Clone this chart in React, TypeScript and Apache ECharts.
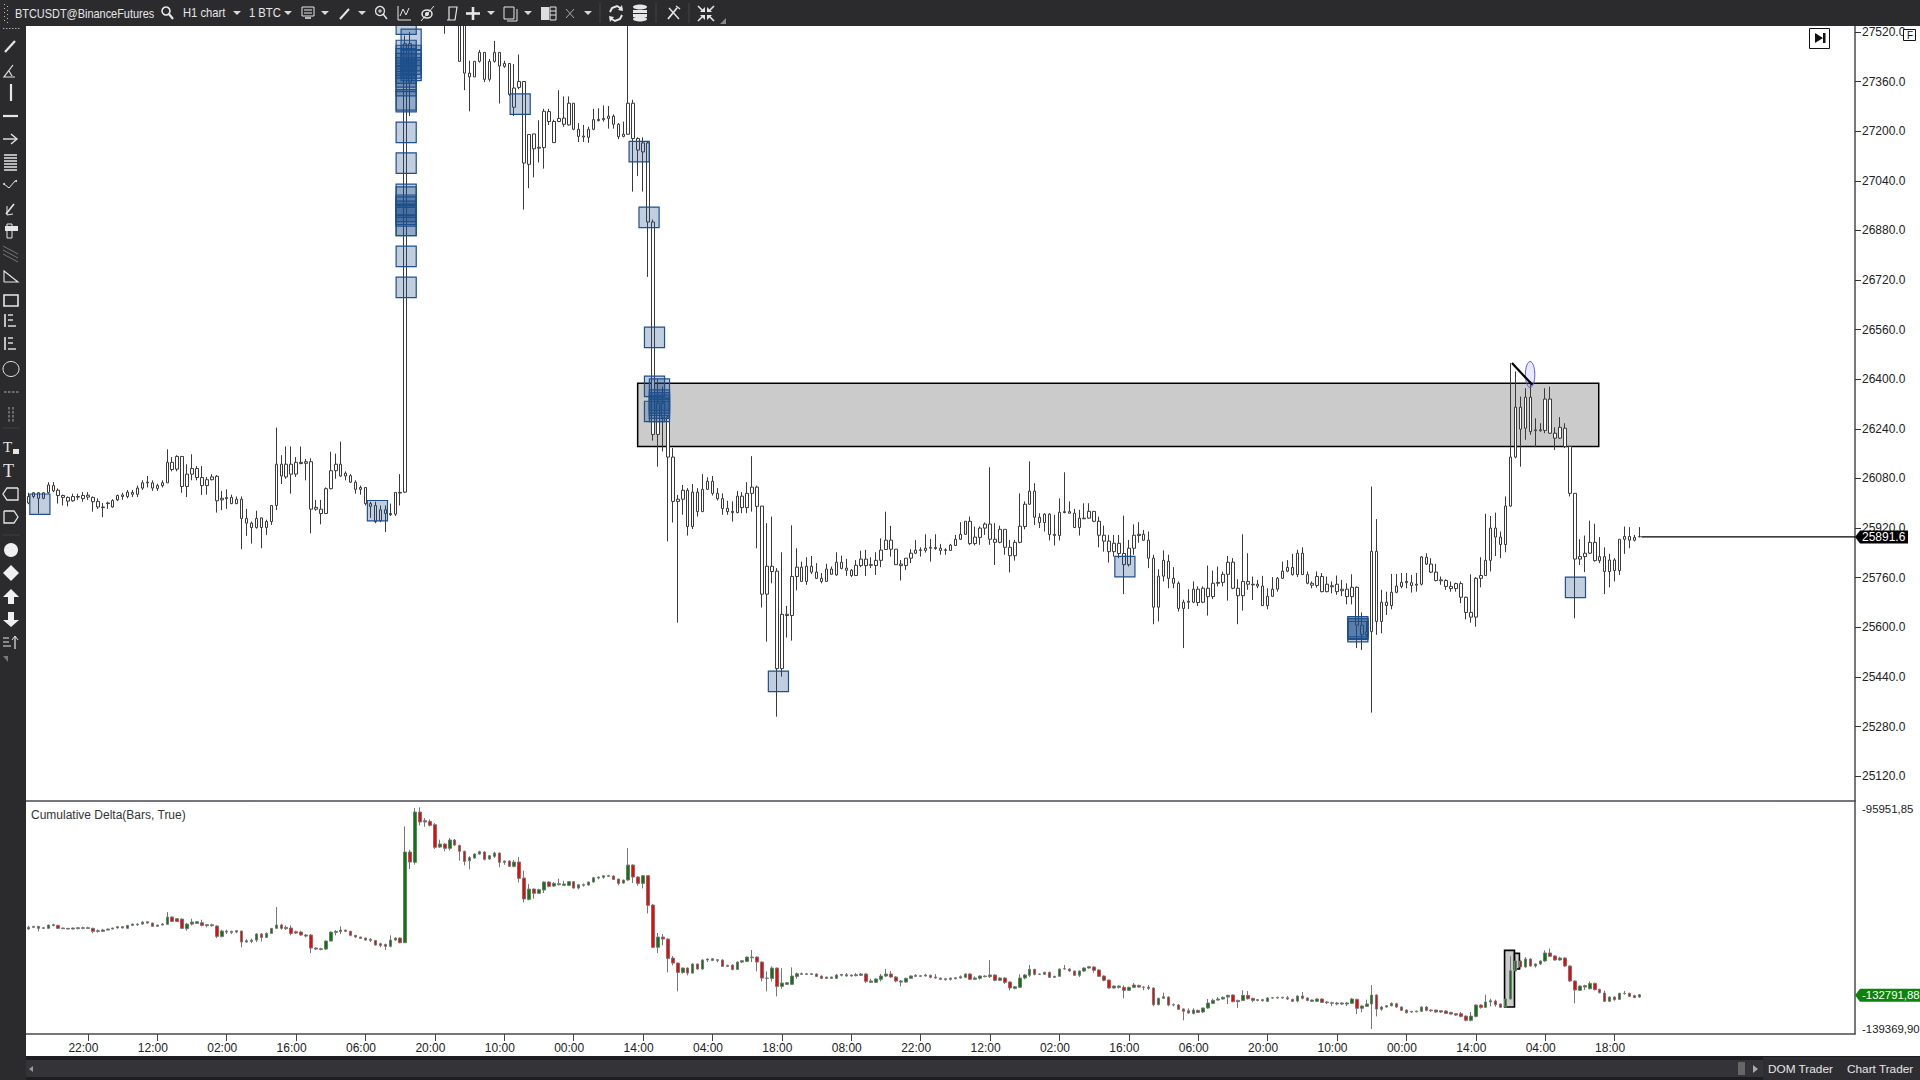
import React, { useEffect, useRef } from "react";
import * as echarts from "echarts";

const timeLabels = ["22:00","12:00","02:00","16:00","06:00","20:00","10:00","00:00","14:00","04:00","18:00","08:00","22:00","12:00","02:00","16:00","06:00","20:00","10:00","00:00","14:00","04:00","18:00"];
const priceTicks = [25120,25280,25440,25600,25760,25920,26080,26240,26400,26560,26720,26880,27040,27200,27360,27520];
const deltaTicks = [-95951.85,-139369.9];

const bodyTops = [
26022,26034,26034,26034,26059,26057,26042,26025,26019,26022,
26022,26025,26026,26019,26006,25988,26001,26009,26025,26027,
26036,26035,26049,26066,26068,26066,26057,26066,26132,26132,
26151,26151,26094,26112,26112,26083,26076,26085,26087,26016,
26019,26019,26013,26013,25951,25936,25951,25953,25941,25993,
26126,26126,26126,26126,26132,26132,26134,26134,25987,25981,
26047,26105,26126,26126,26097,26089,26068,26051,26051,25999,
25993,25979,25979,25967,26035,26035,27482,27482,27700,27720,
27680,27690,27660,27650,27660,27640,27620,27600,27560,27387,
27425,27454,27454,27425,27454,27454,27418,27418,27339,27360,
27360,27189,27191,27148,27264,27263,27231,27241,27242,27290,
27290,27206,27184,27206,27237,27238,27241,27248,27248,27222,
27190,27290,27290,27176,27162,27162,26907,26323,26323,26278,
26149,26013,26042,26042,26036,26036,26045,26071,26071,26032,
26015,25984,25974,26023,26023,26032,26052,26052,25991,25797,
25797,25781,25642,25642,25764,25794,25794,25797,25797,25778,
25758,25788,25788,25810,25810,25791,25784,25800,25820,25820,
25802,25816,25849,25881,25881,25852,25804,25823,25839,25849,
25850,25855,25858,25858,25855,25850,25865,25884,25900,25942,
25942,25891,25920,25933,25933,25884,25916,25916,25858,25874,
25926,25997,26039,26039,25955,25965,25965,25900,25971,25973,
25973,25968,25952,25952,25974,25974,25942,25897,25878,25871,
25871,25838,25855,25897,25900,25900,25881,25823,25765,25816,
25813,25758,25742,25681,25684,25723,25723,25726,25726,25742,
25745,25771,25810,25810,25726,25748,25748,25739,25739,25733,
25700,25723,25758,25781,25793,25793,25839,25839,25770,25742,
25764,25764,25739,25734,25739,25723,25723,25729,25729,25607,
25586,25845,25845,25681,25681,25713,25733,25745,25748,25744,
25739,25827,25826,25804,25778,25753,25751,25732,25741,25741,
25697,25648,25758,25767,25816,25920,25920,25891,25991,26149,
26310,26310,26342,26342,26237,26237,26336,26336,26226,26245,
26242,26183,26032,25828,25839,25874,25874,25828,25828,25817,
25817,25884,25893,25893,25890,25893];

const bodyBottoms = [
26001,26022,26016,26016,26034,26040,26025,26019,26007,26008,
26020,26015,26020,26005,25988,25986,25999,25988,26011,26022,
26022,26029,26029,26049,26066,26049,26048,26057,26066,26109,
26110,26054,26054,26094,26083,26057,26057,26076,26008,26011,
26015,25999,25999,25951,25936,25922,25922,25922,25922,25941,
25993,26088,26085,26094,26094,26128,26129,25981,25981,25967,
25967,26047,26105,26088,26088,26068,26045,26045,25999,25990,
25941,25944,25967,25963,25965,26033,26036,27358,27560,27620,
27620,27610,27600,27590,27600,27600,27580,27425,27387,27375,
27375,27425,27367,27367,27425,27410,27409,27318,27277,27341,
27097,27093,27143,27145,27147,27231,27163,27231,27222,27220,
27206,27183,27181,27180,27206,27234,27237,27241,27222,27182,
27183,27190,27176,27139,27133,26907,26222,26222,26278,26149,
26006,26006,26013,25925,25925,25973,25973,26045,26032,26015,
25983,25973,25970,25970,25986,25986,26032,25990,25707,25707,
25780,25467,25467,25638,25638,25764,25748,25748,25778,25758,
25748,25748,25771,25769,25790,25784,25767,25767,25799,25799,
25800,25799,25816,25851,25852,25802,25799,25799,25823,25839,
25848,25848,25855,25854,25848,25848,25848,25864,25884,25900,
25870,25870,25890,25920,25884,25874,25874,25858,25831,25831,
25874,25925,25997,25955,25938,25938,25899,25896,25896,25970,
25968,25922,25922,25950,25952,25942,25897,25878,25844,25844,
25838,25802,25802,25855,25896,25881,25823,25665,25665,25765,
25758,25742,25661,25661,25681,25681,25680,25681,25699,25699,
25742,25745,25771,25726,25702,25702,25739,25737,25733,25670,
25670,25700,25723,25758,25781,25770,25770,25770,25742,25736,
25735,25715,25715,25731,25715,25718,25699,25699,25607,25576,
25576,25586,25619,25619,25670,25670,25713,25732,25744,25735,
25736,25739,25804,25778,25751,25750,25732,25725,25725,25697,
25648,25633,25633,25758,25767,25816,25891,25867,25867,25991,
26149,26239,26242,26231,26234,26234,26235,26226,26210,26210,
26183,26032,25820,25820,25828,25839,25815,25815,25780,25780,
25783,25783,25884,25881,25881,25892];

const priceHighs = [
26034,26036,26036,26036,26068,26068,26048,26028,26022,26031,
26031,26036,26036,26022,26016,26001,26005,26013,26028,26034,
26043,26043,26057,26074,26088,26074,26063,26074,26174,26149,
26155,26151,26126,26158,26120,26120,26085,26094,26091,26040,
26045,26028,26022,26022,25982,25941,25976,25953,25947,25993,
26244,26155,26183,26183,26149,26183,26143,26145,26011,26011,
26051,26166,26160,26199,26103,26094,26074,26057,26051,26005,
26005,25993,25993,25999,26035,26094,27508,27520,27740,27750,
27710,27720,27700,27680,27700,27680,27650,27640,27600,27427,
27425,27462,27454,27433,27491,27454,27427,27418,27416,27447,
27360,27189,27191,27235,27272,27272,27237,27332,27312,27312,
27290,27226,27220,27214,27272,27274,27283,27281,27254,27226,
27231,27650,27301,27180,27180,27168,26915,26400,26376,26285,
26178,26027,26059,26049,26062,26049,26094,26084,26088,26049,
26032,26008,26006,26040,26036,26068,26152,26057,25991,25936,
25957,25791,25842,25669,25929,25855,25812,25826,25830,25807,
25775,25805,25796,25842,25831,25821,25788,25817,25847,25850,
25826,25842,25887,25973,25927,25852,25817,25823,25852,25881,
25858,25900,25885,25900,25869,25855,25869,25898,25939,25942,
25957,25925,25925,25938,26116,25936,25928,25916,25882,25882,
26032,26006,26135,26065,25968,25968,25968,25963,26016,26100,
26006,25982,25979,26000,26000,25974,25957,25928,25898,25898,
25898,25960,25882,25932,25939,25914,25909,25834,25787,25848,
25834,25794,25748,25689,25723,25748,25732,25732,25799,25783,
25796,25780,25830,25823,25755,25900,25839,25764,25753,25766,
25726,25762,25762,25812,25817,25837,25850,25858,25780,25748,
25780,25775,25764,25748,25767,25753,25742,25771,25732,25648,
25619,26054,25949,25721,25715,25772,25772,25775,25775,25769,
25775,25830,25839,25823,25805,25764,25755,25748,25744,25748,
25699,25771,25762,25826,25966,25959,25970,25909,26022,26452,
26425,26344,26371,26393,26274,26258,26371,26376,26245,26278,
26258,26185,26032,25884,25896,25944,25934,25891,25858,25837,
25823,25884,25925,25923,25898,25923];

const priceLows = [
25997,26016,25967,26013,26031,26036,25999,25993,25990,26005,
26011,26005,26011,25973,25982,25955,25982,25986,26007,26011,
26016,26020,26020,26043,26051,26040,26040,26051,26066,26103,
26103,26034,26020,26074,26074,26027,26028,26074,25970,25978,
25982,25997,25997,25852,25895,25870,25918,25855,25898,25930,
25978,26062,26079,26031,26085,26126,26074,25903,25976,25932,
25965,26045,26079,26085,26074,26066,26031,26028,25993,25953,
25936,25939,25907,25959,25959,25993,26033,27249,27545,27600,
27600,27590,27580,27570,27514,27570,27560,27425,27332,27264,
27375,27421,27358,27360,27421,27289,27404,27314,27249,27335,
26947,27016,27051,27099,27079,27220,27162,27229,27214,27218,
27203,27165,27165,27162,27203,27231,27231,27208,27208,27174,
27180,27188,27005,27055,27005,26730,26202,26118,26167,25877,
25938,25615,25963,25896,25917,25957,25973,26043,26025,26009,
25963,25963,25941,25968,25968,25968,25973,25855,25664,25554,
25742,25312,25441,25567,25557,25719,25748,25737,25772,25756,
25742,25748,25769,25766,25787,25766,25762,25766,25794,25766,
25791,25769,25794,25850,25828,25801,25751,25785,25807,25837,
25828,25841,25812,25850,25834,25834,25848,25863,25882,25898,
25866,25864,25866,25898,25866,25801,25871,25834,25777,25815,
25871,25916,25995,25930,25920,25909,25880,25864,25880,25968,
25968,25920,25896,25950,25950,25939,25858,25844,25809,25828,
25823,25707,25796,25834,25873,25879,25791,25610,25619,25748,
25726,25726,25651,25533,25659,25678,25669,25678,25638,25691,
25732,25732,25686,25723,25610,25654,25721,25688,25726,25669,
25658,25699,25715,25756,25778,25767,25762,25769,25739,25726,
25728,25713,25713,25710,25705,25701,25674,25674,25533,25527,
25570,25325,25576,25581,25640,25658,25710,25726,25726,25712,
25715,25735,25801,25775,25748,25737,25721,25715,25715,25678,
25626,25615,25602,25729,25766,25780,25830,25823,25842,25989,
26145,26118,26205,26221,26181,26231,26226,26224,26172,26208,
26178,26022,25629,25801,25778,25837,25812,25807,25707,25729,
25748,25769,25837,25855,25877,25890];

const deltaOpens = [
-119700,-119370,-119170,-119570,-119570,-118980,-118980,-119500,-119570,-119700,
-119630,-119570,-119570,-119570,-120030,-120160,-119900,-119700,-119500,-119500,
-119570,-118980,-118850,-118720,-118520,-118520,-119170,-118910,-118780,-117330,
-117660,-117730,-119630,-118720,-118590,-118450,-118850,-119050,-119110,-121150,
-120300,-120160,-120300,-120100,-122270,-122140,-121880,-120690,-121350,-120560,
-119570,-118910,-119370,-119500,-120230,-120290,-120880,-120880,-123450,-123720,
-123650,-122070,-120360,-120230,-119900,-120160,-120950,-121280,-121480,-121740,
-121940,-122600,-122730,-123120,-121880,-121480,-122400,-104500,-106540,-96610,
-98320,-98450,-99110,-103520,-102930,-103780,-102130,-103190,-104370,-106210,
-105690,-104900,-104500,-105890,-105360,-104700,-106280,-106280,-107330,-106480,
-109640,-113850,-111810,-112660,-112000,-110420,-111220,-110950,-111080,-111080,
-110360,-111610,-111080,-111020,-110420,-109640,-109500,-109300,-109240,-109830,
-110620,-110030,-107070,-109440,-110690,-109170,-114970,-123320,-121280,-121680,
-125430,-126420,-128260,-127400,-128390,-126610,-127600,-125820,-125890,-125760,
-125820,-126880,-126810,-127670,-126220,-126090,-125230,-125230,-126220,-129380,
-129440,-127400,-131020,-130620,-130620,-129050,-128650,-128650,-128650,-128580,
-128980,-129180,-129440,-129440,-128840,-128970,-128970,-128910,-128840,-128580,
-130220,-130220,-129630,-128970,-128580,-129170,-130160,-130160,-129430,-129040,
-129040,-128970,-128840,-129370,-129630,-129700,-129630,-129500,-129370,-129240,
-128580,-129630,-129430,-129100,-129100,-128770,-129820,-129370,-130160,-131410,
-131210,-129370,-128840,-127660,-128640,-128640,-128250,-129240,-129040,-127590,
-127590,-127980,-128840,-127980,-127390,-127190,-127790,-128970,-129760,-131340,
-131210,-131210,-131800,-131210,-130820,-131150,-131410,-131340,-134630,-133380,
-133120,-134630,-134700,-135480,-135820,-136350,-135750,-136080,-135290,-134370,
-133710,-133510,-133120,-132720,-134040,-133780,-132790,-133380,-133640,-133840,
-133970,-133310,-133310,-133310,-133250,-133580,-133910,-132920,-133310,-133970,
-133970,-133510,-134100,-134240,-134500,-134500,-134500,-134370,-133580,-135350,
-134960,-134500,-132720,-135550,-135090,-134830,-134440,-135090,-135690,-136080,
-136020,-135950,-135090,-135690,-135690,-135820,-135880,-136150,-136410,-136410,
-136880,-137720,-136940,-134700,-135160,-134100,-133910,-134500,-135090,-133510,
-127980,-126010,-127190,-125620,-127000,-126600,-126010,-124430,-125020,-125810,
-125420,-127000,-129960,-131800,-131150,-131480,-130430,-131610,-132320,-133970,
-133120,-133580,-132460,-132390,-132850,-133120];

const deltaCloses = [
-119370,-119170,-119570,-119440,-118910,-118840,-119570,-119630,-119700,-119500,
-119440,-119440,-119440,-120160,-120160,-119900,-119700,-119500,-119240,-119240,
-118980,-118720,-118720,-118320,-118260,-119170,-118910,-118720,-117330,-118190,
-118190,-119570,-118720,-118320,-118260,-118980,-119050,-118850,-121150,-120100,
-120100,-120360,-120030,-122270,-122010,-121880,-120690,-121350,-120560,-119570,
-118910,-119570,-119630,-120560,-120490,-120880,-121090,-123450,-123650,-123590,
-122070,-120300,-120160,-119900,-120160,-120950,-121280,-121550,-121880,-121940,
-122860,-122930,-123120,-121880,-121480,-122400,-104500,-106480,-96610,-98580,
-98580,-99240,-103580,-102930,-103780,-102130,-103120,-104370,-106350,-105620,
-104900,-104440,-105950,-105230,-104700,-106540,-106540,-107330,-106480,-109700,
-113780,-111810,-112660,-111940,-110420,-111280,-110690,-110750,-110820,-110360,
-111610,-110950,-110950,-110420,-109570,-109440,-109170,-109170,-109900,-110690,
-110030,-107070,-109440,-110690,-109170,-115030,-123320,-121280,-121680,-125500,
-126420,-128260,-127400,-128390,-126610,-127600,-125820,-125620,-125560,-125890,
-127070,-127070,-127670,-126220,-125960,-125230,-125360,-126220,-129380,-129440,
-127400,-131020,-130360,-130300,-128980,-128520,-128520,-128520,-128520,-129050,
-129440,-129440,-129180,-128780,-128640,-128710,-128770,-128710,-128580,-130030,
-129960,-129560,-128970,-128580,-129170,-129960,-129960,-129430,-128970,-128840,
-128910,-128770,-129240,-129170,-129370,-129500,-129370,-129300,-129110,-128580,
-129630,-129370,-128970,-128970,-128770,-129820,-129370,-130220,-131340,-131080,
-129370,-128770,-127660,-128640,-128580,-128250,-129240,-129040,-127590,-127530,
-127980,-128840,-127980,-127390,-127130,-127850,-129040,-129820,-131340,-130950,
-130950,-131800,-131210,-130750,-131150,-131210,-131150,-134630,-133380,-133050,
-134700,-134700,-135550,-135950,-136280,-135690,-136150,-135290,-134300,-133780,
-133510,-133180,-132790,-134040,-133780,-132790,-133450,-133780,-133780,-133640,
-133310,-133250,-133180,-133180,-133510,-133970,-132920,-133380,-133780,-133710,
-133510,-134170,-134240,-134370,-134300,-134300,-134300,-133510,-135350,-134890,
-134500,-132720,-135490,-135090,-134830,-134370,-135090,-135750,-136220,-135950,
-135880,-135090,-135750,-135820,-136080,-136080,-136350,-136480,-136680,-136940,
-137720,-136880,-134700,-135160,-134100,-133840,-134630,-135160,-133510,-127920,
-126010,-127190,-125620,-127000,-126600,-126010,-124430,-125090,-125810,-125420,
-127000,-129960,-131740,-130950,-130880,-130430,-131670,-132260,-133970,-133120,
-133640,-132390,-132390,-132990,-133240,-132660];

const deltaLows = [
-119830,-119440,-120160,-119630,-119630,-119170,-119700,-119700,-119760,-119760,
-119760,-119760,-119700,-120550,-120420,-120290,-119970,-119770,-119570,-119570,
-119630,-119050,-119110,-118850,-118650,-119240,-119240,-118980,-118850,-118260,
-118260,-119700,-120030,-118980,-118650,-119170,-119370,-119240,-121480,-121350,
-120690,-120690,-120550,-123320,-122400,-122470,-122270,-122140,-121480,-120620,
-119630,-119840,-119900,-120950,-120690,-121020,-121350,-124440,-123850,-123910,
-123850,-122140,-120950,-120690,-120290,-121150,-121410,-121610,-122010,-122270,
-122990,-123320,-123850,-123320,-122010,-122530,-122470,-107860,-107000,-99240,
-99500,-99440,-103910,-103710,-104370,-104180,-103320,-106210,-107140,-107930,
-105820,-105030,-106150,-106020,-105690,-107530,-107030,-107400,-107530,-110490,
-114440,-114040,-113720,-112790,-112600,-111480,-111350,-111080,-111150,-111220,
-111740,-111870,-111350,-111150,-110550,-109900,-109770,-109440,-110030,-111080,
-110750,-110160,-110620,-111150,-111680,-116610,-123450,-124440,-122930,-128260,
-126880,-132010,-128520,-128850,-128520,-127730,-127730,-126220,-126020,-126280,
-127200,-127200,-127860,-127790,-126420,-126220,-126220,-128060,-130040,-132010,
-130040,-132990,-131480,-130760,-130760,-129510,-128780,-128780,-128780,-129180,
-129510,-129510,-129510,-129570,-129040,-129100,-129100,-129040,-128970,-130350,
-130350,-130350,-130020,-129170,-129300,-130220,-131010,-130290,-129560,-129170,
-129170,-129100,-129430,-129500,-129760,-129890,-129890,-129630,-129500,-129300,
-129760,-129760,-129700,-129240,-129370,-130020,-129960,-130550,-131800,-131610,
-131340,-129630,-129170,-128840,-128770,-128770,-129370,-129370,-129100,-127720,
-128120,-128970,-129170,-128180,-127530,-128310,-129170,-130020,-131470,-131470,
-131470,-133380,-131930,-131340,-131280,-131800,-131740,-134960,-134760,-133510,
-134960,-134960,-135680,-137720,-136410,-136540,-136280,-136280,-135420,-134500,
-133840,-133640,-134500,-134170,-135290,-133910,-133640,-134170,-133970,-134040,
-134100,-133450,-133450,-133450,-133710,-134100,-134170,-133580,-133970,-134100,
-134100,-134300,-134500,-134890,-134760,-134700,-134890,-134500,-136480,-136150,
-135090,-139430,-136940,-135820,-135220,-134960,-135290,-135880,-136350,-136220,
-136150,-136080,-135950,-136080,-136220,-136280,-136480,-136610,-136880,-137140,
-137920,-137920,-137140,-135420,-135290,-134960,-135030,-135220,-135160,-133640,
-128050,-127530,-127320,-127130,-127320,-126800,-126140,-125220,-125940,-125940,
-127130,-130160,-134370,-131930,-131740,-131610,-131800,-132390,-134100,-134100,
-133840,-133710,-132660,-133120,-133250,-133250];

const deltaHighs = [
-119040,-119110,-119110,-119370,-118840,-118650,-118840,-119440,-119500,-119440,
-119310,-119240,-119240,-119440,-119770,-119640,-119640,-119440,-119170,-119170,
-118910,-118650,-118590,-118190,-118190,-118450,-118850,-118520,-116350,-117270,
-117600,-117660,-118520,-117660,-118120,-117860,-118720,-118650,-118980,-119840,
-119840,-120030,-119900,-120030,-121680,-121610,-120490,-120490,-120360,-119500,
-115360,-118650,-118980,-118980,-120030,-120030,-120690,-120690,-123320,-123390,
-121940,-120230,-119900,-119170,-119840,-120030,-120880,-121220,-121410,-121480,
-121880,-122400,-122600,-120950,-121350,-121350,-99440,-104040,-95820,-95690,
-97790,-98060,-98780,-102070,-102730,-101740,-101940,-103060,-104240,-105360,
-104770,-104240,-104370,-105160,-104440,-104640,-106210,-106150,-106080,-105490,
-108190,-110820,-111680,-111740,-110290,-110290,-110420,-109770,-110160,-110230,
-110230,-110890,-110690,-110360,-109500,-109370,-109110,-108980,-109110,-109770,
-109970,-103710,-106940,-109240,-109040,-109110,-114770,-120490,-120690,-121550,
-125030,-126290,-127270,-127270,-126480,-126480,-125690,-125560,-125430,-125630,
-125690,-126740,-126680,-126090,-125830,-125100,-123850,-125100,-126090,-128060,
-127070,-127330,-127400,-130170,-127270,-128260,-128260,-128390,-128390,-128450,
-128850,-129110,-129110,-128580,-128580,-128380,-128710,-128380,-128380,-128450,
-129500,-129430,-128580,-127590,-127980,-128970,-129760,-129300,-128840,-128580,
-128780,-128510,-128710,-128580,-129300,-129370,-129300,-129240,-128840,-128450,
-128450,-129040,-128840,-128840,-125810,-128640,-129240,-129240,-130020,-131010,
-128640,-128580,-126800,-127530,-128510,-128120,-128120,-128910,-127530,-126800,
-127460,-127920,-127850,-127260,-127000,-127060,-127660,-128840,-129700,-130820,
-130820,-130820,-131080,-130350,-130690,-131010,-130750,-131210,-133250,-132260,
-132990,-134370,-134500,-135350,-135350,-135350,-135620,-135220,-133510,-133450,
-133120,-132990,-132660,-132590,-133640,-131800,-131940,-133250,-133510,-133450,
-133120,-133120,-133050,-133050,-132920,-133450,-132790,-132130,-133180,-133640,
-133380,-133380,-133970,-134040,-134100,-134170,-134100,-133310,-133450,-134760,
-133640,-130750,-132590,-134890,-134700,-134170,-134240,-134960,-135550,-135880,
-135820,-134960,-134890,-135550,-135620,-135750,-135750,-136020,-136280,-136080,
-136750,-136080,-134570,-134570,-132660,-133450,-133640,-134370,-133050,-125090,
-124960,-125810,-125220,-125480,-126470,-125880,-123900,-123570,-124890,-125160,
-125290,-126870,-129830,-130820,-130690,-130030,-130290,-131470,-131860,-132990,
-132990,-132260,-131920,-132260,-132660,-132520];

// Signal boxes: bar position and centre price
const boxBars = [2.3,70.4,76.2,76.2,76.2,76.2,76.2,76.2,76.2,76.2,76.2,76.2,76.2,76.2,76.2,76.2,76.2,76.2,76.2,76.2,76.2,76.2,76.2,76.2,76.2,76.2,76.2,
  77.2,77.2,77.2,77.2,77.2,77.2,99.2,123.2,125.2,126.3,126.3,126.3,127.3,127.3,127.3,127.3,127.3,127.3,151.3,221.2,312.1,268.2,268.2,268.2,268.2];
const boxPrices = [25997,25976,26696,26796,26896,26896,26927,26932,26941,26955,26961,26987,26996,27097,27196,27295,27301,27347,27360,27375,27387,27404,27418,27433,27444,27545,27460,
  27496,27444,27427,27416,27404,27396,27287,27134,26922,26535,26377,26296,26368,26333,26324,26316,26307,26296,25426,25796,25729,25602,25597,25594,25586];
const BOX_HALF_BARS = 2.03;
const BOX_HALF_PRICE = 33;

const zoneBars = [122.9, 316.8];
const zonePrices = [26387, 26183];
const trendBars = [299.3, 303.4];
const trendPrices = [26452, 26382];
const ellipseBars = [302.0, 303.9];
const ellipsePrices = [26457, 26373];
const lastPrice = 25891.6;
const lastDelta = -132791.88;
const deltaZones = [[297.8, 299.8, -123910, -135090], [299.8, 300.8, -124500, -127590]];

const SLOTS = 369;
const FONT = "Liberation Sans";
const DARK = "#2b2b2e";
const ICON = "#e6e6e6";
const Z = 100;

const L = (x1: number, y1: number, x2: number, y2: number, w = 1.5, c = ICON) => ({ type: "line", z: Z, silent: true, shape: { x1, y1, x2, y2 }, style: { stroke: c, lineWidth: w } });
const R = (x: number, y: number, width: number, height: number, fill: string, stroke = "none", w = 1) => ({ type: "rect", z: Z, silent: true, shape: { x, y, width, height }, style: { fill, stroke, lineWidth: w } });
const P = (points: number[][], fill = ICON) => ({ type: "polygon", z: Z, silent: true, shape: { points }, style: { fill } });
const PL = (points: number[][], w = 1.5, c = ICON) => ({ type: "polyline", z: Z, silent: true, shape: { points }, style: { stroke: c, lineWidth: w, fill: "none" } });
const C = (cx: number, cy: number, r: number, fill: string, stroke = "none", w = 1.5) => ({ type: "circle", z: Z, silent: true, shape: { cx, cy, r }, style: { fill, stroke, lineWidth: w } });
const E = (cx: number, cy: number, rx: number, ry: number, fill: string, stroke = "none", w = 1.5) => ({ type: "ellipse", z: Z, silent: true, shape: { cx, cy, rx, ry }, style: { fill, stroke, lineWidth: w } });
const T = (text: string, x: number, y: number, fill = ICON, fontSize = 12, fontFamily = FONT, scaleX = 1) => ({ type: "text", z: Z, silent: true, x, y, scaleX, style: { text, fill, fontSize, fontFamily, textVerticalAlign: "middle" } });
const caret = (x: number) => P([[x - 4, 11], [x + 4, 11], [x, 15]], "#d8d8d8");

function chrome() {
  const g: any[] = [
    R(0, 0, 1920, 26, DARK),
    R(0, 0, 26, 1080, DARK),
    R(26, 1056, 1894, 24, "#1e1e20"),
    R(26, 1060, 1894, 17, "#333338"),
    R(1763, 1057, 157, 23, "#2e2e32"),
    T("BTCUSDT@BinanceFutures", 15, 13, ICON, 12.5, FONT, 0.875),
    T("H1 chart", 183, 13, ICON, 12.5, FONT, 0.9),
    T("1 BTC", 249, 13, ICON, 12.5, FONT, 0.9),
    caret(237), caret(288), caret(325), caret(362), caret(491), caret(528), caret(588),
    // drag handle
    ...[4, 8, 12, 16, 20].map((y) => R(4, y, 1, 1, "#bbb")),
    ...[6, 10, 14, 18, 22].map((y) => R(7, y, 1, 1, "#bbb")),
    // magnifier
    C(166, 11, 4, "none", ICON, 1.6), L(169, 14, 173, 19, 2.2),
    // monitor
    R(302, 7, 12, 9, "none", ICON), L(304, 10, 312, 10, 1), L(304, 13, 312, 13, 1), L(305, 18, 311, 18, 1.5),
    // pencil
    L(340, 19, 349, 9, 2),
    C(380, 11, 4.5, "none", ICON, 1.3), L(383, 14, 387, 19, 1.5), L(378, 11, 382, 11, 1), L(380, 9, 380, 13, 1),
    // chart
    PL([[398, 6], [398, 20], [411, 20]], 1), PL([[400, 16], [403, 9], [406, 15], [409, 8]], 1),
    // eye
    E(427, 14, 5, 4, "none", ICON, 1.5), C(427, 14, 2, ICON), L(421, 21, 434, 6, 1),
    // document
    PL([[447, 20], [449, 20], [449, 7], [457, 7], [455, 20], [447, 20]], 1.2),
    // plus
    L(473, 7, 473, 20, 2.6), L(466, 13.5, 480, 13.5, 2.6),
    // copy
    R(504, 7, 10, 12, "none", ICON), L(507, 21, 517, 21, 1), L(517, 21, 517, 9, 1),
    // split
    R(541, 7, 8, 13, "#ddd"), R(550, 7, 6, 13, "none", ICON), L(550, 11, 556, 11, 1), L(550, 15, 556, 15, 1),
    // x
    L(566, 9, 574, 18, 1, "#aaa"), L(574, 9, 566, 18, 1, "#aaa"),
    // separators
    L(600, 3, 600, 23, 1, "#444"), L(656, 3, 656, 23, 1, "#444"), L(689, 3, 689, 23, 1, "#444"),
    // refresh
    PL([[610, 12], [612, 8], [617, 6], [622, 9]], 2), P([[622, 5], [623, 11], [618, 10]]),
    PL([[622, 15], [620, 19], [615, 21], [610, 18]], 2), P([[610, 22], [609, 16], [614, 17]]),
    // db
    E(640, 7, 7, 2.5, ICON), R(633, 10, 14, 3, ICON), R(633, 14, 14, 3, ICON), E(640, 19, 7, 2.5, ICON),
    // tools
    L(668, 19, 677, 8, 1.8), L(669, 8, 679, 19, 1.4), L(676, 6, 680, 9, 1.4),
    // compress
    L(698, 6, 703, 11, 1.6), L(714, 6, 709, 11, 1.6), L(698, 21, 703, 16, 1.6), L(714, 21, 709, 16, 1.6),
    P([[705, 12], [700, 12], [705, 7]]), P([[707, 12], [712, 12], [707, 7]]), P([[705, 15], [700, 15], [705, 20]]), P([[707, 15], [712, 15], [707, 20]]),
    P([[720, 24], [726, 24], [726, 18]], "#888"),
    // left tools
    ...[3, 6, 9, 12, 15, 18].map((x) => R(x, 28, 1.5, 1, "#aaa")),
    L(5, 52, 15, 41, 2.2),
    PL([[4, 77], [15, 77], [4, 77], [13, 65]], 1.2), L(9, 71, 12, 76, 1.2),
    L(11, 84, 11, 101, 2.2),
    L(3, 116, 18, 116, 2.2),
    L(3, 139, 16, 139, 1.4), PL([[11, 134], [17, 139], [11, 144]], 1.4),
    ...[155, 158, 161, 164, 167, 170].map((y) => L(4, y, 17, y, 1.5)),
    PL([[4, 184], [9, 188], [15, 181]], 1), C(4, 184, 1, ICON), C(16, 181, 1, ICON),
    L(6, 214, 14, 204, 1.6), PL([[7, 206], [7, 215], [13, 214]], 1),
    R(5, 226, 13, 5, ICON), R(7, 224, 5, 14, "none", ICON),
    L(3, 250, 18, 258, 0.8, "#888"), L(3, 254, 18, 262, 0.8, "#888"), L(3, 246, 18, 254, 0.8, "#888"),
    PL([[4, 282], [4, 271], [18, 282], [4, 282]], 1.1),
    R(4, 295, 14, 11, "none", ICON, 1.6),
    ...[320, 343].flatMap((y) => [L(5, y - 6, 5, y + 7, 1.6), L(8, y - 5, 13, y - 5, 1.4), L(8, y, 13, y, 1.4), L(8, y + 6, 16, y + 6, 1.4)]),
    E(11, 369, 8, 7.5, "none", ICON, 1),
    ...[4, 8, 12, 16].map((x) => L(x, 392, x + 2.6, 392, 1, "#aaa")),
    ...[407, 411, 415, 419].flatMap((y) => [L(9, y, 9, y + 2.6, 1, "#aaa"), L(13, y, 13, y + 2.6, 1, "#aaa")]),
    L(3, 428, 20, 428, 0.8, "#444"),
    T("T", 3, 447, ICON, 15, "Liberation Serif"), R(13, 449, 6, 5, ICON),
    T("T", 3, 471, ICON, 18, "Liberation Serif"),
    PL([[18, 488], [7, 488], [3, 494], [7, 500], [18, 500], [18, 488]], 1.3),
    PL([[4, 511], [14, 511], [18, 517], [14, 523], [4, 523], [4, 511]], 1.3),
    L(3, 535, 20, 535, 0.8, "#444"),
    C(11, 550, 7, "#f0f0f0"),
    P([[11, 565], [19, 573], [11, 581], [3, 573]], "#f0f0f0"),
    P([[11, 589], [19, 597], [14, 597], [14, 604], [8, 604], [8, 597], [3, 597]], "#f0f0f0"),
    P([[8, 612], [14, 612], [14, 620], [19, 620], [11, 627], [3, 620], [8, 620]], "#f0f0f0"),
    L(3, 638, 9, 638, 1), L(3, 642, 9, 642, 1), L(3, 646, 11, 646, 1), L(15, 637, 15, 649, 1.2), PL([[12, 640], [15, 636], [18, 640]], 1),
    P([[3, 656], [8, 656], [8, 662]], "#777"),
    // status bar
    P([[33, 1066], [29, 1069], [33, 1072]], "#999"),
    R(1738, 1062, 7, 13, "#666"),
    P([[1753, 1065], [1758, 1069], [1753, 1073]], "#aaa"),
    T("DOM Trader", 1768, 1069, ICON, 11.8),
    T("Chart Trader", 1847, 1069, ICON, 11.8),
    // chart buttons
    R(1809.5, 28.5, 20, 20, "#fff", "#111", 1),
    P([[1815, 33], [1823, 38], [1815, 43]], "#111"), R(1823, 33, 2.5, 10, "#111"),
    R(1903.5, 29.5, 12, 11, "#fff", "#111", 1),
    T("F", 1907, 35.5, "#111", 10),
    T("Cumulative Delta(Bars, True)", 31, 815, "#333", 12),
  ];
  return g;
}

const rectItem = (a: number[], b: number[], style: any) => ({
  type: "rect",
  shape: { x: a[0], y: a[1], width: b[0] - a[0], height: b[1] - a[1] },
  style,
});

function buildOption(): any {
  const slotLabels = Array.from({ length: SLOTS }, (_, i) => {
    const k = (i - 12) / 14;
    return Number.isInteger(k) && timeLabels[k] ? timeLabels[k] : "";
  });
  const isTick = (i: number) => slotLabels[i] !== "";
  const priceData = bodyTops.map((t, i) => [bodyBottoms[i], t, priceLows[i], priceHighs[i]]);
  const deltaData = deltaOpens.map((o, i) => [o, deltaCloses[i], deltaLows[i], deltaHighs[i]]);

  const axisLabel = { fontFamily: FONT, fontSize: 12, color: "#222" };
  const axisColor = "#4a4a52";
  const valueLine = { show: true, onZero: false, lineStyle: { color: axisColor, width: 1.5 } };

  return {
    animation: false,
    backgroundColor: "#fff",
    grid: [
      { left: 26, right: 65, top: 26, height: 775, outerBoundsMode: "none", containLabel: false },
      { left: 26, right: 65, top: 801, height: 233, outerBoundsMode: "none", containLabel: false },
    ],
    xAxis: [
      { type: "category", gridIndex: 0, data: slotLabels, axisLabel: { show: false }, axisTick: { show: false }, axisLine: valueLine, splitLine: { show: false } },
      {
        type: "category", gridIndex: 1, data: slotLabels,
        axisLine: valueLine,
        axisTick: { show: true, alignWithLabel: true, length: 7, lineStyle: { color: "#444" }, interval: (i: number) => isTick(i) },
        axisLabel: { ...axisLabel, interval: (i: number) => isTick(i), margin: 8, padding: [0, 9, 0, 0] },
        splitLine: { show: false },
      },
      { type: "value", gridIndex: 0, min: -0.5, max: SLOTS - 0.5, show: false },
      { type: "value", gridIndex: 1, min: -0.5, max: SLOTS - 0.5, show: false },
    ],
    yAxis: [
      {
        type: "value", gridIndex: 0, position: "right", min: 25040, max: 27539, scale: true,
        axisLine: valueLine,
        axisTick: { show: true, length: 6, lineStyle: { color: "#333" }, customValues: priceTicks },
        axisLabel: { ...axisLabel, margin: 7, customValues: priceTicks, formatter: (v: number) => v.toFixed(1) },
        splitLine: { show: false },
      },
      {
        type: "value", gridIndex: 1, position: "right", min: -140416, max: -94432, scale: true,
        axisLine: valueLine,
        axisTick: { show: false },
        axisLabel: { ...axisLabel, fontSize: 11.4, margin: 7, customValues: deltaTicks, formatter: (v: number) => v.toFixed(2).replace(".", ",") },
        splitLine: { show: false },
      },
    ],
    graphic: { elements: chrome() },
    series: [
      {
        type: "custom", xAxisIndex: 2, yAxisIndex: 0, z: 1, clip: true, silent: true,
        data: [[zoneBars[0], zonePrices[0], zoneBars[1], zonePrices[1]]],
        encode: { x: 0, y: 1 },
        renderItem: (_: any, api: any) => rectItem(api.coord([api.value(0), api.value(1)]), api.coord([api.value(2), api.value(3)]), { fill: "#cbcbcb", stroke: "#000", lineWidth: 1.5 }),
      },
      {
        type: "candlestick", xAxisIndex: 0, yAxisIndex: 0, z: 2, barWidth: 3, clip: true, silent: true, progressive: 0,
        itemStyle: { color: "#fff", color0: "#fff", borderColor: "#3a3a3a", borderColor0: "#3a3a3a", borderWidth: 1 },
        data: priceData,
      },
      {
        type: "custom", xAxisIndex: 2, yAxisIndex: 0, z: 3, clip: true, silent: true,
        data: boxBars.map((b, i) => [b, boxPrices[i]]),
        encode: { x: 0, y: 1 },
        renderItem: (_: any, api: any) => rectItem(
          api.coord([api.value(0) - BOX_HALF_BARS, api.value(1) + BOX_HALF_PRICE]),
          api.coord([api.value(0) + BOX_HALF_BARS, api.value(1) - BOX_HALF_PRICE]),
          { fill: "rgba(30,80,140,0.28)", stroke: "#1f4f8c", lineWidth: 1.2 }),
      },
      {
        type: "custom", xAxisIndex: 2, yAxisIndex: 0, z: 4, clip: true, silent: true,
        data: [[ellipseBars[0], ellipsePrices[0], ellipseBars[1], ellipsePrices[1]]],
        encode: { x: 0, y: 1 },
        renderItem: (_: any, api: any) => {
          const a = api.coord([api.value(0), api.value(1)]);
          const b = api.coord([api.value(2), api.value(3)]);
          return { type: "ellipse", shape: { cx: (a[0] + b[0]) / 2, cy: (a[1] + b[1]) / 2, rx: (b[0] - a[0]) / 2, ry: (b[1] - a[1]) / 2 }, style: { fill: "rgba(110,110,255,0.15)", stroke: "#5a5ae6", lineWidth: 1 } };
        },
      },
      {
        type: "custom", xAxisIndex: 2, yAxisIndex: 0, z: 5, clip: true, silent: true,
        data: [[trendBars[0], trendPrices[0], trendBars[1], trendPrices[1]], [325.4, lastPrice, SLOTS - 0.5, lastPrice]],
        encode: { x: 0, y: 1 },
        renderItem: (p: any, api: any) => {
          const a = api.coord([api.value(0), api.value(1)]);
          const b = api.coord([api.value(2), api.value(3)]);
          return { type: "line", shape: { x1: a[0], y1: a[1], x2: b[0], y2: b[1] }, style: { stroke: "#000", lineWidth: p.dataIndex === 0 ? 2.2 : 1.3 } };
        },
      },
      {
        type: "custom", xAxisIndex: 3, yAxisIndex: 1, z: 1, clip: true, silent: true,
        data: deltaZones,
        encode: { x: 0, y: 2 },
        renderItem: (_: any, api: any) => rectItem(api.coord([api.value(0), api.value(2)]), api.coord([api.value(1), api.value(3)]), { fill: "#cbcbcb", stroke: "#000", lineWidth: 1.6 }),
      },
      {
        type: "candlestick", xAxisIndex: 1, yAxisIndex: 1, z: 2, barWidth: 3, clip: true, silent: true, progressive: 0,
        itemStyle: { color: "#008000", color0: "#ff0000", borderColor: "#777", borderColor0: "#777", borderColorDoji: "#777", borderWidth: 1 },
        data: deltaData,
      },
      {
        type: "custom", xAxisIndex: 2, yAxisIndex: 0, z: 20, clip: false, silent: true,
        data: [[SLOTS - 0.5, lastPrice]],
        encode: { x: 0, y: 1 },
        renderItem: (_: any, api: any) => priceTag(api.coord([api.value(0), api.value(1)]), 1908, "#000", api.value(1).toFixed(1), 12),
      },
      {
        type: "custom", xAxisIndex: 3, yAxisIndex: 1, z: 20, clip: false, silent: true,
        data: [[SLOTS - 0.5, lastDelta]],
        encode: { x: 0, y: 1 },
        renderItem: (_: any, api: any) => priceTag(api.coord([api.value(0), api.value(1)]), 1925, "#0a850a", api.value(1).toFixed(2).replace(".", ","), 11.4),
      },
    ],
  };
}

function priceTag(at: number[], xEnd: number, fill: string, text: string, fontSize: number) {
  const [x, y] = at;
  return {
    type: "group",
    children: [
      { type: "polygon", shape: { points: [[x, y], [x + 5, y - 6.5], [xEnd, y - 6.5], [xEnd, y + 6.5], [x + 5, y + 6.5]] }, style: { fill } },
      { type: "text", x: x + 7, y, style: { text, fill: "#fff", fontSize, fontFamily: FONT, textVerticalAlign: "middle" } },
    ],
  };
}

export default function App() {
  const ref = useRef<HTMLDivElement>(null);
  useEffect(() => {
    document.body.style.margin = "0";
    const chart = echarts.init(ref.current!, undefined, { renderer: "svg" });
    chart.setOption(buildOption());
    return () => chart.dispose();
  }, []);
  return <div ref={ref} style={{ width: 1920, height: 1080, overflow: "hidden" }} />;
}
